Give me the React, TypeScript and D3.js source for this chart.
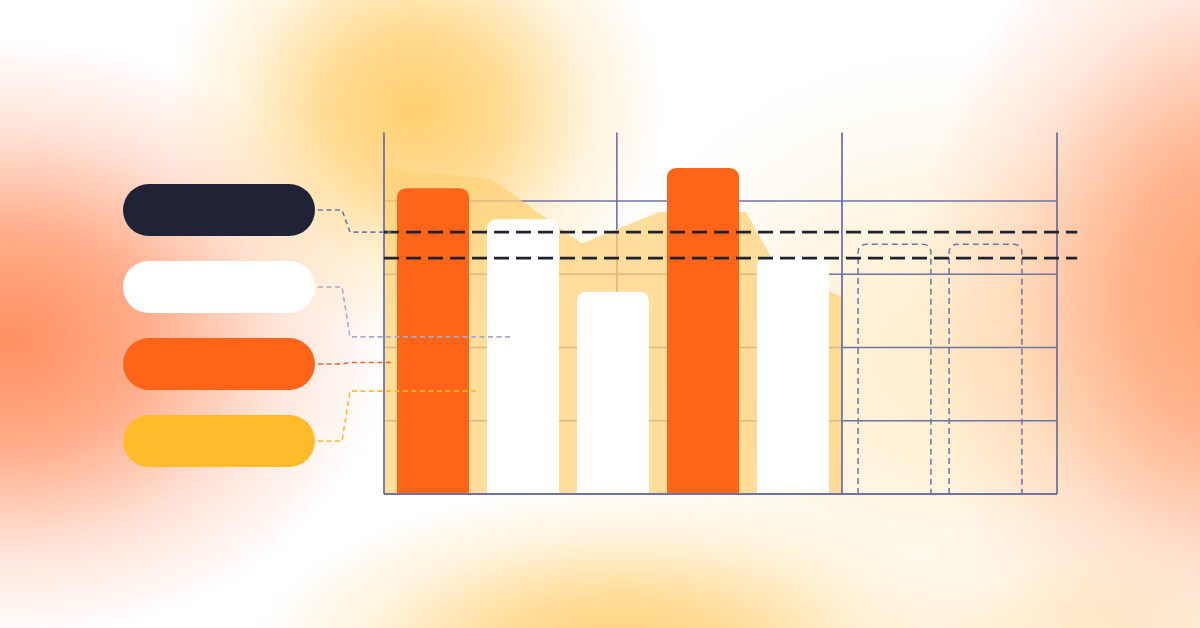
import React from 'react';
import * as d3 from 'd3';

const W = 1200;
const H = 628;

// bars (actual period)
const barCategories = ['Jan', 'Feb', 'Mar', 'Apr', 'May'];
const barValues = [83.5, 75, 55.2, 89, 64.8];
const barSeries = ['actual', 'budget', 'budget', 'actual', 'budget'];
// forecast period (outlined bars)
const forecastCategories = ['Jun', 'Jul'];
const forecastValues = [68.2, 68.2];
// target reference lines
const targetValues = [71.5, 64.4];
// grid
const gridValues = [20, 40, 60, 80];
const columnValues = [0, 34.6, 68.05, 100];
// trend area
const areaX = [0, 15.9, 29.4, 40.9, 53.8, 57.4, 66.1, 68.05];
const areaValues = [89, 86, 68.4, 77, 77, 65, 55.3, 53.8];
// legend
const legendItems = ['Target', 'Budget', 'Actual', 'Trend'];
const legendColors = ['#1f2335', '#ffffff', '#ff6418', '#ffbb2a'];
const connectorColors = ['#7278a8', '#a9abc8', '#f25d35', '#ffbb2a'];
const connectorEndX = [1, 19, 1.2, 13.8];
const connectorEndValues = [71.5, 42.9, 35.9, 28.1];

const seriesColor: Record<string, string> = { actual: '#ff6418', budget: '#ffffff' };

const GRID = '#6e73a6';

// path with rounded top corners
function topRounded(x0: number, x1: number, yTop: number, yBottom: number, r: number, close: boolean) {
    return `M${x0},${yBottom} V${yTop + r} A${r},${r} 0 0 1 ${x0 + r},${yTop} H${x1 - r} A${r},${r} 0 0 1 ${x1},${yTop + r} V${yBottom}${close ? ' Z' : ''}`;
}

const blobs = [
    { id: 'bOrangeL', cx: 10, cy: 340, rx: 380, ry: 300, color: '#ff8a58', o: 0.95 },
    { id: 'bCream', cx: 950, cy: 360, rx: 360, ry: 320, color: '#ffebc4', o: 0.85 },
    { id: 'bYellowT', cx: 415, cy: 110, rx: 250, ry: 230, color: '#ffcd68', o: 0.95 },
    { id: 'bOrangeR', cx: 1235, cy: 290, rx: 320, ry: 420, color: '#ff9a68', o: 0.95 },
    { id: 'bYellowB', cx: 620, cy: 655, rx: 370, ry: 170, color: '#ffcf70', o: 0.95 },
    { id: 'bYellowBR', cx: 1080, cy: 650, rx: 240, ry: 130, color: '#ffdca0', o: 0.6 },
];

const App: React.FC = () => {
    const x = d3.scaleLinear().domain([0, 100]).range([384, 1057]);
    const y = d3.scaleLinear().domain([0, 100]).range([494, 127.75]);
    const band = d3.scaleBand<string>().domain(barCategories).range([388, 838]).paddingInner(0.2).paddingOuter(0.1);
    const fBand = d3.scaleBand<string>().domain(forecastCategories).range([849, 1031]).paddingInner(0.2).paddingOuter(0.1);
    const legendBand = d3.scaleBand<string>().domain(legendItems).range([184, 467]).paddingInner(0.3247);

    const area = d3
        .area<number>()
        .x((_, i) => x(areaX[i]))
        .y0(y(0))
        .y1((d) => y(d));

    const pillX0 = 123;
    const pillW = 192;
    const pillH = legendBand.bandwidth();

    return (
        <svg width={W} height={H} style={{ position: 'absolute', left: 0, top: 0, display: 'block' }}>
            <defs>
                {blobs.map((b) => (
                    <radialGradient key={b.id} id={b.id}>
                        <stop offset="0%" stopColor={b.color} stopOpacity={b.o} />
                        <stop offset="35%" stopColor={b.color} stopOpacity={b.o * 0.75} />
                        <stop offset="70%" stopColor={b.color} stopOpacity={b.o * 0.25} />
                        <stop offset="100%" stopColor={b.color} stopOpacity={0} />
                    </radialGradient>
                ))}
            </defs>
            <rect width={W} height={H} fill="#ffffff" />
            {blobs.map((b) => (
                <ellipse key={b.id} cx={b.cx} cy={b.cy} rx={b.rx} ry={b.ry} fill={`url(#${b.id})`} />
            ))}

            {/* grid */}
            {gridValues.map((v) => (
                <line key={`h${v}`} x1={x(0)} x2={x(100)} y1={y(v)} y2={y(v)} stroke={GRID} strokeWidth={1.6} />
            ))}
            {columnValues.slice(1, 2).map((v) => (
                <line key={`v${v}`} x1={x(v)} x2={x(v)} y1={y(98.7)} y2={y(0)} stroke={GRID} strokeWidth={1.6} />
            ))}

            {/* trend area */}
            <path d={area(areaValues) ?? ''} fill="#ffd27a" fillOpacity={0.75} />

            {/* bars */}
            {barCategories.map((c, i) => {
                const x0 = band(c)!;
                return (
                    <path
                        key={c}
                        d={topRounded(x0, x0 + band.bandwidth(), y(barValues[i]), y(0), 9, true)}
                        fill={seriesColor[barSeries[i]]}
                    />
                );
            })}

            {/* forecast bars */}
            {forecastCategories.map((c, i) => {
                const x0 = fBand(c)!;
                return (
                    <path
                        key={c}
                        d={topRounded(x0, x0 + fBand.bandwidth(), y(forecastValues[i]), y(0), 8, false)}
                        fill="none"
                        stroke={GRID}
                        strokeWidth={1.5}
                        strokeDasharray="6 4"
                    />
                );
            })}

            {/* axes / outer columns */}
            {[columnValues[0], columnValues[2], columnValues[3]].map((v) => (
                <line key={`c${v}`} x1={x(v)} x2={x(v)} y1={y(98.7)} y2={y(0)} stroke={GRID} strokeWidth={1.8} />
            ))}
            <line x1={x(0)} x2={x(100)} y1={y(0)} y2={y(0)} stroke={GRID} strokeWidth={2} />

            {/* target lines */}
            {targetValues.map((v) => (
                <line
                    key={`t${v}`}
                    x1={x(0)}
                    x2={x(103)}
                    y1={y(v)}
                    y2={y(v)}
                    stroke="#1f2233"
                    strokeWidth={2.6}
                    strokeDasharray="15 7"
                />
            ))}

            {/* legend connectors */}
            {legendItems.map((item, i) => {
                const cy = legendBand(item)! + pillH / 2;
                const ty = y(connectorEndValues[i]);
                return (
                    <path
                        key={`k${item}`}
                        d={`M${pillX0 + pillW + 3},${cy} H342 L350,${ty} H${x(connectorEndX[i])}`}
                        fill="none"
                        stroke={connectorColors[i]}
                        strokeWidth={1.6}
                        strokeDasharray="5 3.5"
                    />
                );
            })}

            {/* legend pills */}
            {legendItems.map((item, i) => (
                <rect
                    key={item}
                    x={pillX0}
                    y={legendBand(item)!}
                    width={pillW}
                    height={pillH}
                    rx={pillH / 2}
                    fill={legendColors[i]}
                />
            ))}
        </svg>
    );
};

export default App;
